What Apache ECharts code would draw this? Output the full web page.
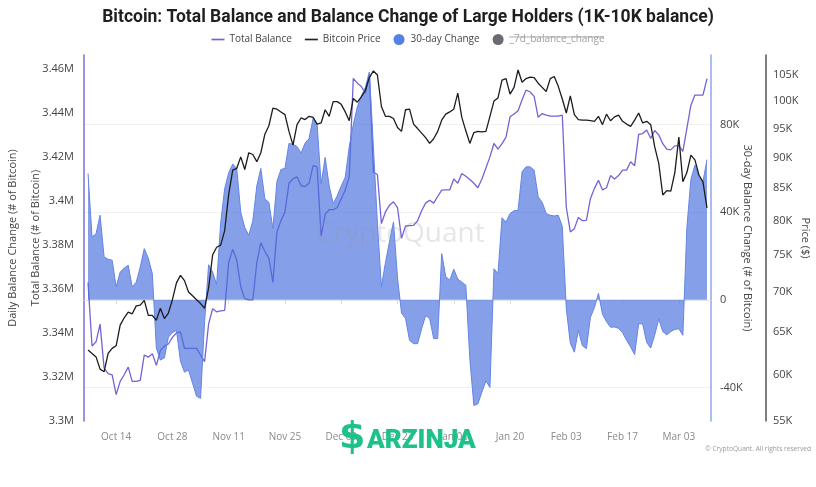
<!DOCTYPE html>
<html>
<head>
<meta charset="utf-8">
<script src="https://cdn.jsdelivr.net/npm/echarts@6/dist/echarts.min.js"></script>
<style>
html,body{margin:0;padding:0;background:#fff;}
#chart{width:816px;height:487px;}
</style>
</head>
<body>
<div id="chart"></div>
<script>
// Daily categories: Oct 6 2024 .. Mar 11 2025 (first and last day carry no data)
const startDay = Date.UTC(2024, 9, 6);
const dayCount = 157;
const monthNames = ['Jan','Feb','Mar','Apr','May','Jun','Jul','Aug','Sep','Oct','Nov','Dec'];
const dates = [];
for (let i = 0; i < dayCount; i++) {
  const d = new Date(startDay + i * 86400000);
  dates.push(d.toISOString().slice(0, 10));
}

// Total Balance (millions of BTC), Oct 7 .. Mar 10
const totalBalance = [
  3.363, 3.334, 3.336, 3.344, 3.324, 3.3215, 3.321, 3.312, 3.318, 3.321,
  3.3245, 3.318, 3.318, 3.3185, 3.330, 3.329, 3.3306, 3.3253, 3.332, 3.334,
  3.335, 3.338, 3.340, 3.3405, 3.333,
  3.333, 3.333, 3.333, 3.330, 3.327, 3.344, 3.351, 3.3496, 3.350, 3.3503,
  3.372, 3.378, 3.373, 3.361, 3.3556, 3.355, 3.355, 3.372, 3.381, 3.377,
  3.374, 3.363, 3.386, 3.391, 3.395, 3.408, 3.410, 3.411, 3.407, 3.4065,
  3.408, 3.416, 3.4155, 3.384, 3.394, 3.396, 3.396, 3.397, 3.401, 3.405,
  3.411, 3.4557, 3.4535, 3.452, 3.449, 3.458, 3.413, 3.412, 3.3897, 3.395,
  3.398, 3.3996, 3.397, 3.383, 3.3886, 3.3888, 3.3889, 3.391, 3.3955, 3.399, 3.4003,
  3.399, 3.402, 3.4049, 3.405, 3.405, 3.410, 3.408, 3.4125, 3.4112, 3.4097,
  3.408, 3.406, 3.410, 3.415, 3.420, 3.4261, 3.4235, 3.426, 3.429, 3.4382,
  3.4395, 3.441, 3.446, 3.4504, 3.4495, 3.4475, 3.438, 3.4397, 3.439, 3.4385, 3.4385,
  3.4385, 3.439, 3.397, 3.3859, 3.3874, 3.3925, 3.391, 3.3912, 3.401, 3.4057,
  3.4094, 3.405, 3.406, 3.4115, 3.410, 3.4115, 3.414, 3.414, 3.4178, 3.416,
  3.4302, 3.4306, 3.4322, 3.4284, 3.432, 3.430, 3.426, 3.4235,
  3.4232, 3.425, 3.425, 3.4225, 3.433, 3.4435, 3.4481, 3.4481, 3.4481, 3.4555
];

// 30-day balance change (thousands of BTC), Oct 7 .. Mar 10
const change30d = [
  57.7, 28.7, 30.2, 38.6, 19.6, 18.5, 18.1, 5.9, 12.7, 14.5,
  15.8, 5.9, 8.1, 15, 23.4, 19, 12, -22, -27.5, -26.5,
  -17, -15, -13.9, -28, -33,
  -32, -38, -44, -45, -10, 16, 12.7, 7, 35, 50.8,
  58, 62, 60, 40, 33, 29.5, 36, 52, 60, 46,
  44.5, 32.5, 54, 59.5, 60, 71.4, 71, 70, 67, 71.5,
  73.7, 82.8, 80, 53, 65, 52, 44, 47.5, 52, 56,
  70, 80, 88, 93, 97, 104, 70, 35, 6, 17,
  26.5, 35.6, 10, -6, -8.5, -18.5, -20, -20, -13.2, -7.2, -8.5,
  -17.7, -17.7, 21.1, 10.6, 9, 14, 9.5, 8.1, 6.7, -27,
  -48.2, -47.5, -42.1, -37, -40, 14.2, 12, 37.5, 35.5, 39.4,
  40.7, 40.9, 58.5, 60.7, 60.7, 59.2, 47, 44.5, 39.4, 38.6, 38.3,
  38.6, 33.5, -4, -19.8, -23.9, -14, -20.9, -22.3, -8, -3.5,
  3, -6.5, -10, -12.5, -12.4, -13, -15, -18.5, -21.5, -25,
  -10.9, -11, -19.5, -22, -16, -8.8, -14.5, -16,
  -14.5, -13.5, -13.2, -16.2, 33, 55, 61.5, 56, 54, 64
];

// Bitcoin price (thousands of USD), Oct 7 .. Mar 10
const btcPrice = [
  62.8, 62.4, 62.0, 60.6, 60.3, 62.4, 63.0, 63.3, 65.8, 66.7,
  67.4, 67.2, 68.2, 68.3, 68.9, 67.0, 67.0, 66.4, 67.9, 66.6,
  67.3, 69.0, 71.2, 72.2, 71.5,
  70.0, 69.5, 69.0, 68.5, 67.9, 70.5, 75.0, 76.1, 76.4, 78.5,
  84.0, 87.9, 88.2, 90.1, 88.0, 90.8, 90.5, 89.3, 90.8, 94.0,
  95.5, 98.7, 98.5, 98.0, 97.5, 94.5, 92.1, 95.7, 96.9, 96.6,
  97.2, 97.0, 95.8, 96.0, 98.4, 97.2, 99.9, 99.9, 99.4, 98.0,
  96.4, 100.5, 99.8, 100.8, 102.0, 104.5, 105.8, 105.0, 99.0, 97.2,
  97.2, 96.8, 95.2, 94.5, 98.4, 98.5, 95.8, 95.0, 94.2, 93.4, 92.4,
  93.2, 94.5, 96.5, 97.6, 98.0, 98.5, 101.5, 97.0, 94.6, 92.4,
  94.3, 94.5, 94.4, 94.5, 97.2, 100.0, 100.6, 104.0, 104.3, 101.3,
  102.6, 106.0, 103.6, 104.3, 104.6, 104.5, 103.4, 102.6, 101.8, 104.3, 104.7,
  102.8, 100.4, 97.8, 101.0, 97.5, 96.6, 96.5, 96.5, 96.4, 96.3,
  97.2, 95.7, 97.6, 96.4, 97.1, 97.4, 96.3, 95.8, 95.4, 96.5,
  97.8, 96.0, 96.3, 95.7, 91.8, 89.0, 83.9, 84.6,
  84.5, 87.5, 93.5, 86.0, 87.5, 90.4, 89.6, 87.1, 86.0, 81.9
];

// Tick labels
const balanceTicks = [3.30, 3.32, 3.34, 3.36, 3.38, 3.40, 3.42, 3.44, 3.46];
const changeTicks = [-40, 0, 40, 80];
const priceTicks = [55, 60, 65, 70, 75, 80, 85, 90, 95, 100, 105];

const pad = arr => [null].concat(arr, [null]);

const labelIdx = (i) => i >= 8 && (i - 8) % 14 === 0;
const fmtDate = (v) => {
  const p = v.split('-');
  return monthNames[+p[1] - 1] + ' ' + p[2];
};

const FONT = 'Open Sans';
const LINE_ICON = 'path://M0,0 L14,0 L14,1.8 L0,1.8 Z';
const chart = echarts.init(document.getElementById('chart'), null, {renderer: 'canvas'});
chart.setOption({
  animation: false,
  backgroundColor: '#fff',
  textStyle: {fontFamily: FONT},
  title: {
    text: 'Bitcoin: Total Balance and Balance Change of Large Holders (1K-10K balance)',
    left: 'center', top: 4,
    textStyle: {fontFamily: 'Roboto', fontSize: 17.5, fontWeight: 'bold', color: '#1f1f1f'}
  },
  legend: {
    top: 29, left: 'center',
    itemGap: 13, itemWidth: 13, itemHeight: 11, symbolKeepAspect: true,
    textStyle: {fontSize: 10, color: '#444', fontFamily: FONT},
    data: [
      {name: 'Total Balance', icon: LINE_ICON},
      {name: 'Bitcoin Price', icon: LINE_ICON},
      {name: '30-day Change', icon: 'circle'},
      {name: '_7d_balance_change', icon: 'circle', textStyle: {color: '#a0a0a0'}}
    ]
  },
  grid: {left: 84, right: 105, top: 55, bottom: 66, containLabel: false, outerBoundsMode: 'none'},
  xAxis: {
    type: 'category', data: dates, boundaryGap: false,
    axisLine: {lineStyle: {color: '#e3e3e3'}},
    axisTick: {show: true, interval: labelIdx, length: 4, lineStyle: {color: '#dcdcdc'}},
    axisLabel: {interval: labelIdx, formatter: fmtDate, color: '#8a8a8a', fontSize: 10, margin: 11},
    splitLine: {show: false}
  },
  yAxis: [
    {
      type: 'value', position: 'left', min: 3.3, max: 3.4663, interval: 0.02,
      name: 'Total Balance (# of Bitcoin)', nameLocation: 'middle', nameGap: 43, nameRotate: 90,
      nameMoveOverlap: false,
      nameTextStyle: {color: '#444', fontSize: 11},
      axisLine: {show: true, lineStyle: {color: '#7a6fd8', width: 1.5}},
      axisTick: {show: false},
      axisLabel: {color: '#444', fontSize: 11, margin: 10, showMaxLabel: false,
        formatter: v => (+v.toFixed(2)) + 'M'},
      splitLine: {show: false}
    },
    {
      type: 'value', position: 'right', min: -55.31, max: 111.77,
      name: '30-day Balance Change (# of Bitcoin)', nameLocation: 'middle', nameGap: 31, nameRotate: -90,
      nameMoveOverlap: false,
      nameTextStyle: {color: '#444', fontSize: 11},
      axisLine: {show: true, lineStyle: {color: '#8fa6ea', width: 1.5}},
      axisTick: {show: false, customValues: changeTicks},
      axisLabel: {color: '#444', fontSize: 11, margin: 9, customValues: changeTicks,
        formatter: v => v === 0 ? '0' : v + 'K'},
      splitLine: {show: true, lineStyle: {color: '#f1f1f1'}}
    },
    {
      type: 'log', position: 'right', offset: 55, min: 55, max: 109, logBase: 10,
      name: 'Price ($)', nameLocation: 'middle', nameGap: 34, nameRotate: -90,
      nameMoveOverlap: false,
      nameTextStyle: {color: '#444', fontSize: 11},
      axisLine: {show: true, lineStyle: {color: '#555', width: 1.5}},
      axisTick: {show: false, customValues: priceTicks},
      axisLabel: {color: '#444', fontSize: 11, margin: 7, customValues: priceTicks,
        formatter: v => Math.round(v) + 'K'},
      splitLine: {show: false}
    },
    {
      type: 'value', position: 'left', min: 0, max: 1,
      name: 'Daily Balance Change (# of Bitcoin)', nameLocation: 'middle', nameGap: 66, nameRotate: 90,
      nameMoveOverlap: false,
      nameTextStyle: {color: '#444', fontSize: 11},
      axisLine: {show: false}, axisTick: {show: false}, axisLabel: {show: false}, splitLine: {show: false}
    }
  ],
  series: [
    {
      name: 'Total Balance', type: 'line', yAxisIndex: 0, data: pad(totalBalance), z: 2,
      symbol: 'none', color: '#7264d6', lineStyle: {width: 1.3, color: '#7264d6'}
    },
    {
      name: '30-day Change', type: 'line', yAxisIndex: 1, data: pad(change30d), z: 3,
      symbol: 'none', color: '#5780e6',
      lineStyle: {width: 1, color: '#6485e4'},
      areaStyle: {color: 'rgb(72,110,222)', opacity: 0.66}
    },
    {
      name: 'Bitcoin Price', type: 'line', yAxisIndex: 2, data: pad(btcPrice), z: 4,
      symbol: 'none', color: '#222', lineStyle: {width: 1.3, color: '#1c1c1c'}
    },
    {
      name: '_7d_balance_change', type: 'line', yAxisIndex: 1, data: [],
      symbol: 'none', color: '#6a6a72'
    }
  ],
  graphic: [
    {type: 'text', left: 316, top: 220, z: 100, silent: true,
      style: {text: 'CryptoQuant', font: '500 28px "Open Sans"', fill: 'rgba(150,150,168,0.24)'}},
    {type: 'text', left: 339, top: 419, z: 100, silent: true,
      style: {text: '$', font: 'bold 38px "DejaVu Sans"', fill: '#1dc28a'}},
    {type: 'text', left: 367, top: 428, z: 100, silent: true,
      style: {text: 'ARZINJA', font: '900 26px "Roboto"', fill: '#1dc28a'}},
    {type: 'text', right: 5, top: 446, z: 100, silent: true,
      style: {text: '\u00A9 CryptoQuant. All rights reserved', font: '6.6px "Open Sans"', fill: '#9a9a9a'}},
    {type: 'line', z: 100, silent: true, shape: {x1: 509, y1: 37, x2: 604, y2: 37},
      style: {stroke: '#a8a8a8', lineWidth: 1}}
  ]
});
</script>
</body>
</html>
